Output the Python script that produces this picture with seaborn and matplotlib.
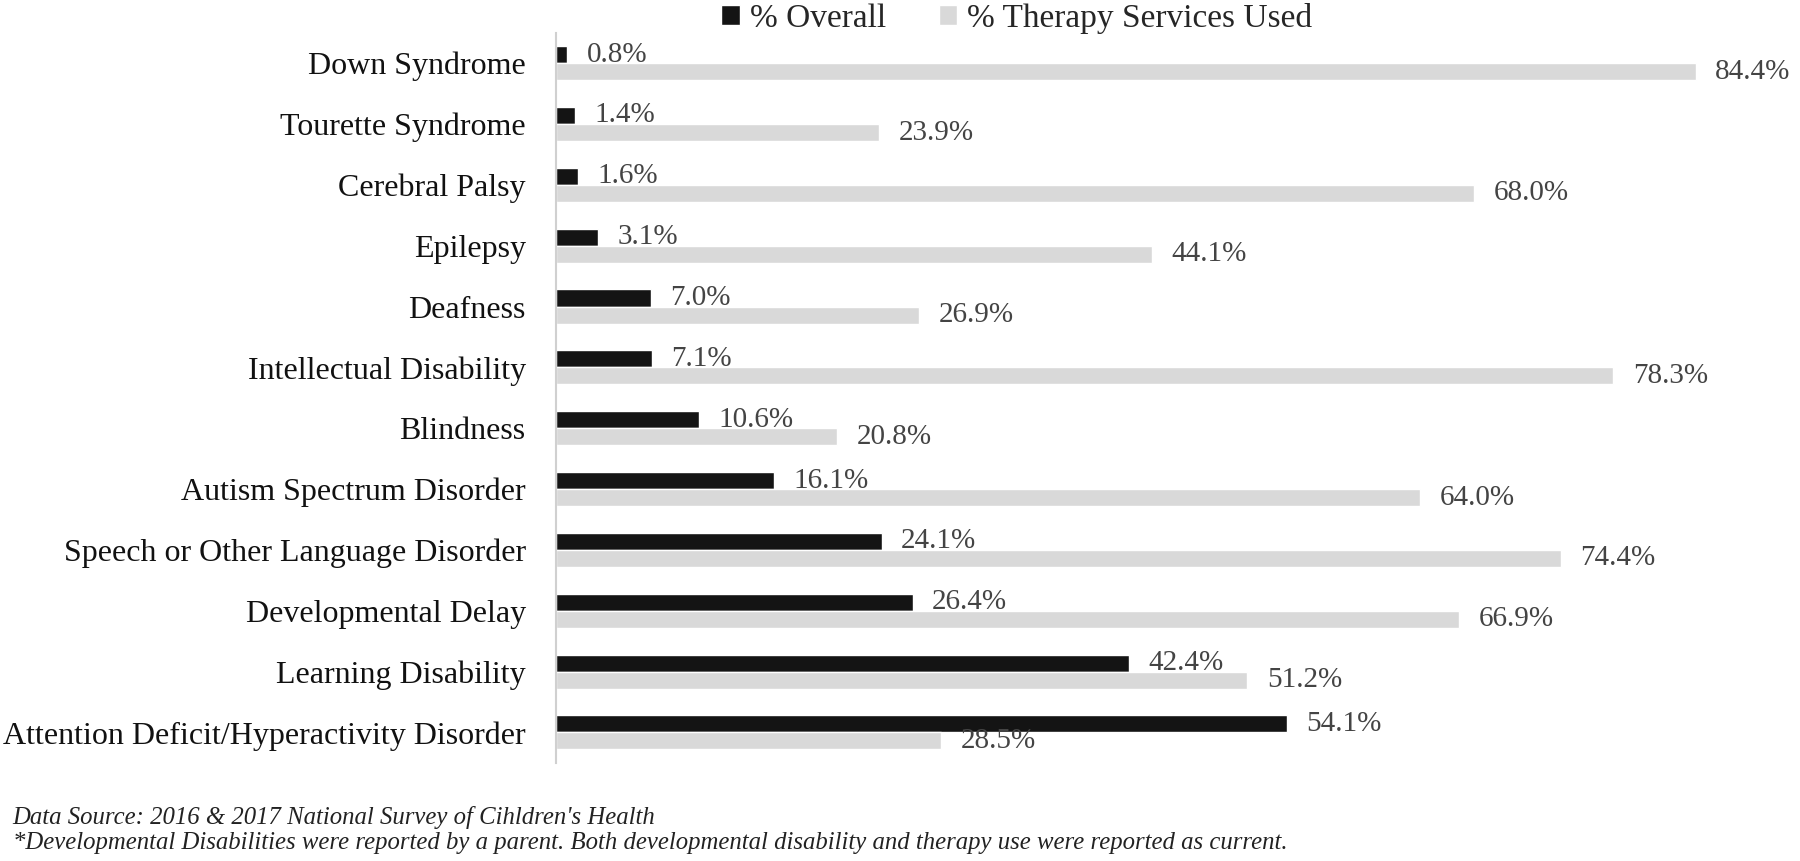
import matplotlib
matplotlib.use("Agg")
import matplotlib.pyplot as plt
import seaborn as sns
import pandas as pd

# data
conditions = [
    "Down Syndrome", "Tourette Syndrome", "Cerebral Palsy", "Epilepsy",
    "Deafness", "Intellectual Disability", "Blindness",
    "Autism Spectrum Disorder", "Speech or Other Language Disorder",
    "Developmental Delay", "Learning Disability",
    "Attention Deficit/Hyperactivity Disorder",
]
overall = [0.8, 1.4, 1.6, 3.1, 7.0, 7.1, 10.6, 16.1, 24.1, 26.4, 42.4, 54.1]
therapy = [84.4, 23.9, 68.0, 44.1, 26.9, 78.3, 20.8, 64.0, 74.4, 66.9, 51.2, 28.5]
series = ["% Overall", "% Therapy Services Used"]

df = pd.DataFrame({
    "Condition": conditions * 2,
    "Percent": overall + therapy,
    "Series": [series[0]] * len(conditions) + [series[1]] * len(conditions),
})

sns.set_theme(style="white")
plt.rcParams["font.family"] = ["Liberation Serif", "DejaVu Serif"]

fig = plt.figure(figsize=(18, 8.61), dpi=100)
ax = fig.add_axes([0.309, 0.114, 0.675, 0.848])

sns.barplot(data=df, y="Condition", x="Percent", hue="Series",
            order=conditions, hue_order=series,
            palette=["#141414", "#d9d9d9"], width=0.56, orient="h",
            saturation=1, ax=ax)

# value labels next to each bar
for cont in ax.containers:
    ax.bar_label(cont, fmt="%.1f%%", padding=14, fontsize=21, color="#444444")

ax.set_xlim(0, 90)
ax.set_ylim(11.5, -0.5)
ax.set_xlabel("")
ax.set_ylabel("")
ax.set_xticks([])
ax.tick_params(axis="y", labelsize=23, colors="#111111", length=0, pad=22)
for s in ["top", "right", "bottom"]:
    ax.spines[s].set_visible(False)
ax.spines["left"].set_color("#d0d0d0")
ax.spines["left"].set_linewidth(1.5)

sns.move_legend(ax, "center", bbox_to_anchor=(0.565, 0.979),
                bbox_transform=fig.transFigure, ncol=2,
                frameon=False, title=None, fontsize=24,
                handlelength=0.55, handleheight=0.55, handletextpad=0.3,
                columnspacing=1.6, borderpad=0.1)

fig.text(0.007, 0.050, "Data Source: 2016 & 2017 National Survey of Cihldren's Health",
         fontsize=17.8, style="italic", color="#222222", va="center")
fig.text(0.007, 0.021,
         "*Developmental Disabilities were reported by a parent. Both developmental "
         "disability and therapy use were reported as current.",
         fontsize=17.8, style="italic", color="#222222", va="center")

fig.savefig("out.png", dpi=100, facecolor="white")
